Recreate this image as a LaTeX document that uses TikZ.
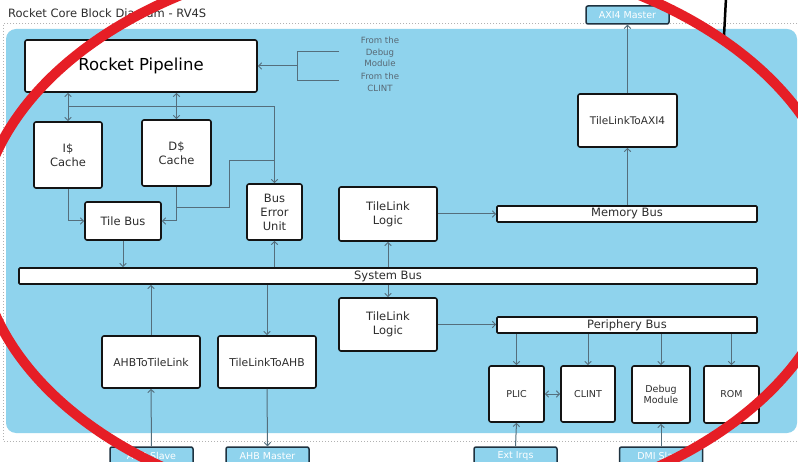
\documentclass[tikz,border=0pt]{standalone}
\usepackage{fontspec}
\setmainfont{DejaVu Sans}
\usetikzlibrary{arrows.meta}

\definecolor{panel}{RGB}{143,211,237}
\definecolor{wirec}{RGB}{84,110,124}
\definecolor{edgec}{RGB}{20,20,20}
\definecolor{portedge}{RGB}{30,50,64}
\definecolor{notec}{RGB}{88,104,116}
\definecolor{titlec}{RGB}{45,45,45}
\definecolor{markred}{RGB}{230,30,38}

\newcommand\boxfont{\fontsize{11.5}{14}\selectfont}
\newcommand\smallboxfont{\fontsize{9.5}{11.5}\selectfont}
\newcommand\portfont{\fontsize{9.5}{11}\selectfont}
\newcommand\notefont{\fontsize{8.6}{11.5}\selectfont}

\tikzset{
  blk/.style={draw=edgec, line width=1.6, fill=white, rounded corners=2,
    align=center, font=\boxfont, text=titlec, inner sep=0pt},
  pblk/.style={blk, font=\smallboxfont},
  busbar/.style={blk, rounded corners=1},
  port/.style={draw=portedge, line width=1.5, fill=panel, rounded corners=2,
    font=\portfont, text=white, inner sep=0pt, minimum width=83, minimum height=18},
  tip/.tip={Straight Barb[length=3.2,width=6.5,line width=0.9]},
  wire/.style={draw=wirec, line width=1, -tip},
  wire2/.style={draw=wirec, line width=1, tip-tip},
  plain/.style={draw=wirec, line width=1},
}

\begin{document}
\begin{tikzpicture}[x=1pt,y=-1pt]
\useasboundingbox (0,0) rectangle (798,462);
\clip (0,0) rectangle (798,462);
\fill[white] (0,0) rectangle (798,462);

% title and frame
\node[anchor=west, font=\fontsize{11.5}{13}\selectfont, text=titlec, inner sep=0] (title) at (8,14) {Rocket Core Block Diagram - RV4S};
\draw[gray!60, line width=1, dash pattern=on 1 off 2] (812,24) -- (3,24) -- (3,441) -- (812,441);
\fill[panel] (6,29) [rounded corners=10] rectangle (797,433);

% core blocks
\node[blk, minimum width=232, minimum height=52, font=\fontsize{16.5}{18}\selectfont, text=black] (pipe) at (141,66) {Rocket Pipeline};
\node[blk, minimum width=68, minimum height=66] (icache) at (68,155) {I\$\\Cache};
\node[blk, minimum width=69, minimum height=66] (dcache) at (176.5,153) {D\$\\Cache};
\node[blk, minimum width=76, minimum height=38] (tilebus) at (123,221) {Tile Bus};
\node[blk, minimum width=55, minimum height=56] (beu) at (274.5,212) {Bus\\Error\\Unit};
\node[blk, minimum width=98, minimum height=54] (tll1) at (388,214) {TileLink\\Logic};
\node[busbar, minimum width=738, minimum height=16] (sysbus) at (388,276) {System Bus};
\node[busbar, minimum width=260, minimum height=16] (membus) at (627,214) {Memory Bus};
\node[blk, minimum width=99, minimum height=53, font=\fontsize{10.5}{13}\selectfont] (axi) at (627.5,120.5) {TileLinkToAXI4};
\node[port] (axim) at (627.5,15) {AXI4 Master};
\node[blk, minimum width=98, minimum height=53] (tll2) at (388,324.5) {TileLink\\Logic};
\node[busbar, minimum width=260, minimum height=16] (perbus) at (627,325) {Periphery Bus};
\node[pblk, minimum width=55, minimum height=56] (plic) at (516.5,394) {PLIC};
\node[pblk, minimum width=54, minimum height=56] (clint) at (588,394) {CLINT};
\node[pblk, minimum width=58, minimum height=57] (dbg) at (661,394.5) {Debug\\Module};
\node[pblk, minimum width=55, minimum height=57] (rom) at (731.5,394.5) {ROM};
\node[blk, minimum width=98, minimum height=52, font=\fontsize{10.8}{13}\selectfont] (ahb2tl) at (151,362) {AHBToTileLink};
\node[blk, minimum width=98, minimum height=52, font=\fontsize{10.8}{13}\selectfont] (tl2ahb) at (267,362) {TileLinkToAHB};

% external ports
\node[port] (ahbs) at (151.5,456) {AHB Slave};
\node[port] (ahbm) at (267.5,456) {AHB Master};
\node[port] (extirq) at (515.5,456) {Ext Irqs};
\node[port] (dmis) at (661,456) {DMI Slave};

% interrupt sources feeding the pipeline
\node[align=center, font=\notefont, text=notec, inner sep=0] (fromdbg) at (380,52) {From the\\Debug\\Module};
\node[align=center, font=\notefont, text=notec, inner sep=0] (fromclint) at (380,82.5) {From the\\CLINT};
\coordinate (dbgin) at (339,52);
\coordinate (clintin) at (339,81);
\coordinate (irqjoin) at (297,66);
\draw[plain] (dbgin) -- (297,52) -- (297,81) -- (clintin);
\draw[wire] (irqjoin) -- (pipe.east);

% pipeline to caches and bus error unit
\draw[wire2] (pipe.south -| icache) -- (icache.north);
\draw[wire2] (pipe.south -| dcache) -- (dcache.north);
\coordinate (ctrlrow) at (68,107);
\draw[wire] (ctrlrow) -| (beu.north);
\coordinate (beutap) at (274.5,161);
\coordinate (dtap) at (176.5,208);
\draw[plain] (beutap) -- (229,161) -- (229,208) -- (dtap);

% caches to tile bus to system bus
\draw[wire] (icache.south) |- (tilebus.west);
\draw[wire] (dcache.south) |- (tilebus.east);
\draw[wire] (tilebus.south) -- (tilebus.south |- sysbus.north);
\draw[wire] (sysbus.north -| beu) -- (beu.south);

% memory side
\draw[wire] (sysbus.north -| tll1) -- (tll1.south);
\draw[wire] (tll1.east) -- (membus.west);
\draw[wire] (membus.north -| axi) -- (axi.south);
\draw[wire] (axi.north) -- (axim.south);

% periphery side
\draw[wire] (sysbus.south -| tll2) -- (tll2.north);
\draw[wire] (tll2.east) -- (tll2.east -| perbus.west);
\draw[wire] (perbus.south -| plic) -- (plic.north);
\draw[wire] (perbus.south -| clint) -- (clint.north);
\draw[wire] (perbus.south -| dbg) -- (dbg.north);
\draw[wire] (perbus.south -| rom) -- (rom.north);
\draw[wire2] (plic.east) -- (clint.west);
\draw[wire] (extirq.north) -- (plic.south);
\draw[wire] (dmis.north) -- (dbg.south);

% AHB bridges
\draw[wire] (ahb2tl.north) -- (ahb2tl.north |- sysbus.south);
\draw[wire] (sysbus.south -| tl2ahb) -- (tl2ahb.north);
\draw[wire] (ahbs.north) -- (ahb2tl.south);
\draw[wire] (tl2ahb.south) -- (ahbm.north);

% hand-drawn markup over the diagram
\draw[black, line width=2.5] (726,-2) -- (724,36);
\draw[markred, line width=10] (410,235) ellipse [x radius=432, y radius=283];
\end{tikzpicture}
\end{document}
